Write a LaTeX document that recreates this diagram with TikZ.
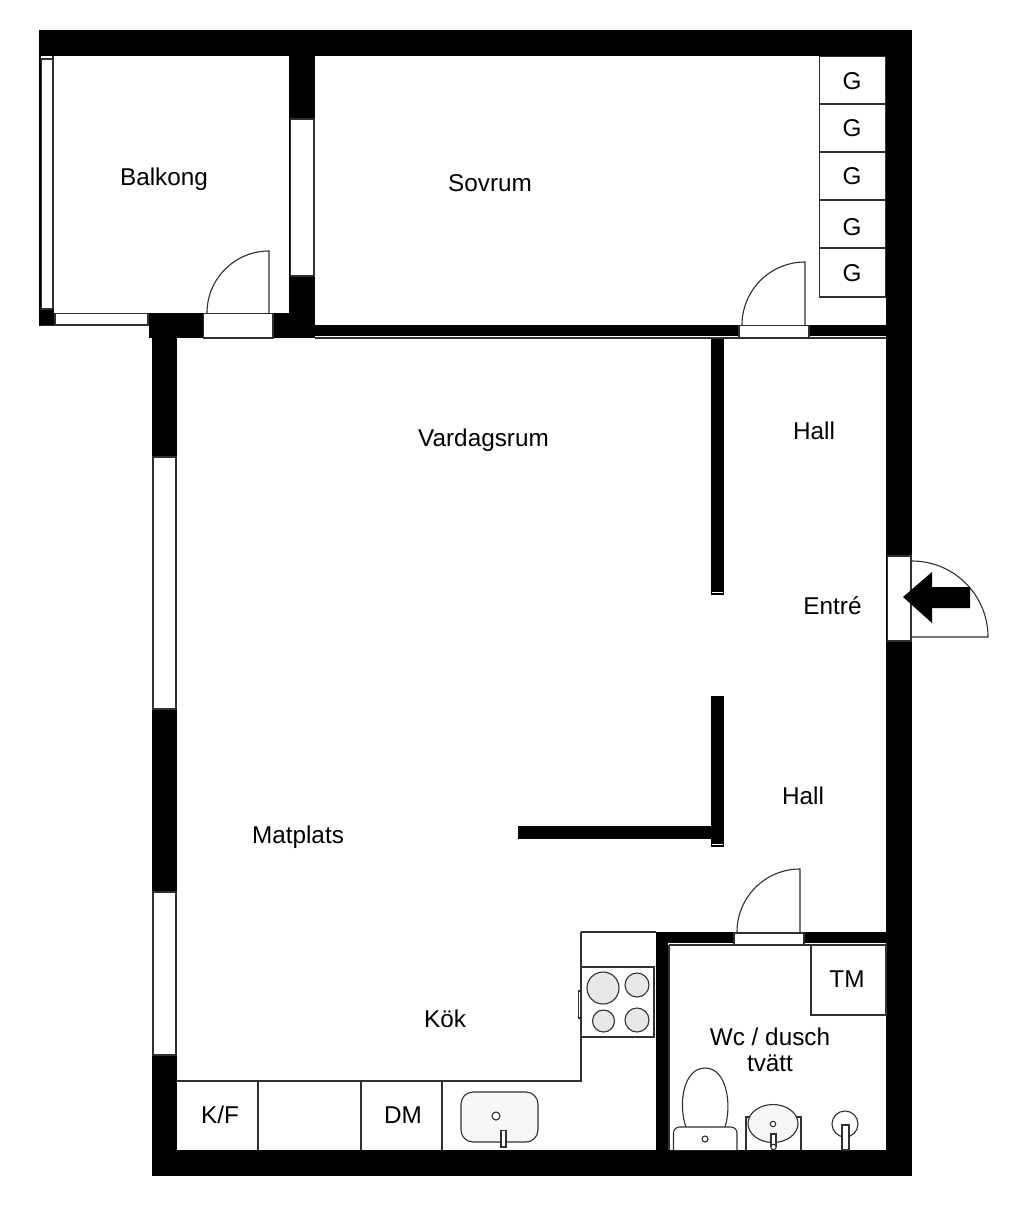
\documentclass[tikz,border=0pt]{standalone}
\usepackage{fontspec}
\setmainfont{Liberation Sans}
\definecolor{ln}{HTML}{303030}
\definecolor{burner}{HTML}{E8E8E8}
\definecolor{basin}{HTML}{F6F6F6}
\tikzset{
  wall/.style={fill=black,draw=none},
  opening/.style={fill=white,draw=ln,line width=1.1pt},
  fixture/.style={draw=ln,line width=1.1pt,fill=white},
  ware/.style={draw=ln,line width=1.1pt,fill=basin},
  hotplate/.style={draw=ln,line width=1.1pt,fill=burner},
  swing/.style={draw=ln,line width=1.1pt},
  lbl/.style={anchor=base,inner sep=0pt,outer sep=0pt,font=\fontsize{24.3}{24.3}\selectfont,text=black},
}
\begin{document}
\begin{tikzpicture}[x=1pt,y=-1pt]
\useasboundingbox[fill=white] (0,0) rectangle (1024,1212);
% walls
\fill[wall] (39,30) rectangle (912,56);
\fill[wall] (886,30) rectangle (912,1176);
\fill[wall] (152,1150) rectangle (912,1176);
\fill[wall] (152,313) rectangle (177,1176);
\fill[wall] (149,313) rectangle (315,338);
\fill[wall] (289,30) rectangle (315,338);
\fill[wall] (315,325) rectangle (886,336);
\fill[wall] (39,30) rectangle (41,326);
\fill[wall] (40,309) rectangle (54,326);
\fill[wall] (711,337) rectangle (724,594.5);
\fill[wall] (711,696) rectangle (724,846.5);
\fill[wall] (518,825.5) rectangle (711,839);
\fill[wall] (656,932) rectangle (668,1150);
\fill[wall] (656,932) rectangle (886,943);
% thin lines beside walls
\draw[swing] (315,338) -- (886,338);
\draw[swing] (669,945) -- (886,945);
\draw[swing] (669,945) -- (669,1150);
\draw[swing] (53,56) -- (53,309);
\draw[white,line width=1pt] (712,592.7) -- (723,592.7);
\draw[white,line width=1pt] (712,844) -- (723,844);
% windows and door openings
\draw[opening] (41.5,59) rectangle (52.5,309);
\draw[opening] (55,313.5) rectangle (148,325);
\draw[swing] (41,325.8) -- (150,325.8);
\draw[opening] (290.5,119) rectangle (314,276);
\draw[opening] (203.5,313.5) rectangle (273,338);
\draw[opening] (153,457) rectangle (176,709);
\draw[opening] (153,892) rectangle (176,1055);
\draw[opening] (739,325.5) rectangle (809,337.5);
\draw[opening] (887.5,556) rectangle (911,641);
\draw[opening] (734,933) rectangle (804,945);
% door swings
\draw[swing] (207,313) arc[start angle=180,end angle=90,radius=62pt] -- (269,313);
\draw[swing] (742,325) arc[start angle=180,end angle=90,radius=63pt] -- (805,325);
\draw[swing] (737,932) arc[start angle=180,end angle=90,radius=63pt] -- (800,932);
\draw[swing] (912,561) arc[start angle=90,end angle=0,radius=76pt] -- (912,637);
% entrance arrow
\fill[black] (903,597) -- (932,572) -- (932,587) -- (970,587) -- (970,608) -- (932,608) -- (932,623) -- cycle;
% wardrobes
\draw[fixture] (819.5,56.5) rectangle (885.5,104);
\draw[fixture] (819.5,104) rectangle (885.5,152);
\draw[fixture] (819.5,152) rectangle (885.5,200);
\draw[fixture] (819.5,200) rectangle (885.5,248);
\draw[fixture] (819.5,248) rectangle (885.5,297);
% kitchen
\draw[swing] (581,932) -- (656,932);
\draw[swing] (581,932) -- (581,1081) -- (177,1081);
\draw[fixture] (581,967) rectangle (654,1037);
\draw[swing] (578.5,991) rectangle (581,1018);
\draw[hotplate] (603,988) circle[radius=16pt];
\draw[hotplate] (637,985) circle[radius=12pt];
\draw[hotplate] (603.5,1021) circle[radius=11pt];
\draw[hotplate] (637,1020) circle[radius=12pt];
\draw[swing] (258,1081) -- (258,1150);
\draw[swing] (361,1081) -- (361,1150);
\draw[swing] (442,1081) -- (442,1150);
\draw[ware,rounded corners=12pt] (461,1092) rectangle (538,1142);
\draw[fixture] (496,1116) circle[radius=4pt];
\draw[fixture] (501,1130.5) rectangle (506,1147);
% bathroom
\draw[fixture] (811,945) rectangle (886,1015);
\draw[fixture] (686,1127) .. controls (678,1105) and (683,1068) .. (705,1068) .. controls (727,1068) and (732,1105) .. (725,1127);
\draw[fixture,rounded corners=6pt] (673.5,1150) -- (673.5,1127) -- (737,1127) -- (737,1150);
\draw[fixture] (705,1139) circle[radius=3pt];
\draw[fixture] (746,1150) -- (746,1117) -- (801,1117) -- (801,1150);
\draw[ware] (773,1123.5) ellipse[x radius=25pt,y radius=19pt];
\draw[fixture] (773,1124) circle[radius=2.7pt];
\draw[fixture] (771,1134) rectangle (776,1146);
\draw[fixture] (773.5,1147) circle[radius=2.7pt];
\draw[fixture] (845,1124) circle[radius=13pt];
\draw[fixture] (842,1125) rectangle (849,1150);
% labels
\node[lbl] (balkong) at (164,185) {Balkong};
\node[lbl] (sovrum) at (490,191) {Sovrum};
\node[lbl] (vardagsrum) at (483.5,446) {Vardagsrum};
\node[lbl] (hall1) at (814,439) {Hall};
\node[lbl] (entre) at (832.5,614) {Entré};
\node[lbl] (hall2) at (803,804) {Hall};
\node[lbl] (matplats) at (298,843) {Matplats};
\node[lbl] (kok) at (445,1027) {Kök};
\node[lbl] (wc) at (770,1045) {Wc / dusch};
\node[lbl] (tvatt) at (770,1071) {tvätt};
\node[lbl] (tm) at (847,987) {TM};
\node[lbl] (kf) at (220,1123) {K/F};
\node[lbl] (dm) at (403,1123) {DM};
\node[lbl] (g1) at (852,89.5) {G};
\node[lbl] (g2) at (852,136) {G};
\node[lbl] (g3) at (852,184) {G};
\node[lbl] (g4) at (852,235) {G};
\node[lbl] (g5) at (852,281) {G};
\end{tikzpicture}
\end{document}
